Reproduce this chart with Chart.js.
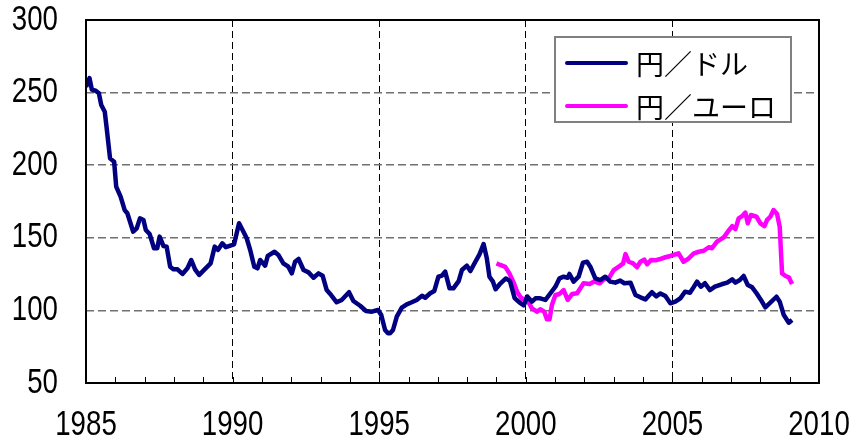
<!DOCTYPE html>
<html>
<head>
<meta charset="utf-8">
<script src="https://cdn.jsdelivr.net/npm/chart.js@4"></script>
<style>
  body { margin: 0; background: #fff; }
  canvas { display: block; }
</style>
</head>
<body>
<canvas id="fxChart" width="850" height="440"></canvas>
<script>
// 円/ドル (月次、読み取り値)
const dollarYears = [1985.0, 1985.12, 1985.2, 1985.33, 1985.44, 1985.52, 1985.64, 1985.7, 1985.82, 1985.96,
  1986.03, 1986.18, 1986.32, 1986.41, 1986.61, 1986.73, 1986.84, 1986.96, 1987.04, 1987.17,
  1987.32, 1987.43, 1987.51, 1987.64, 1987.75, 1987.87, 1987.98, 1988.12, 1988.29, 1988.46,
  1988.59, 1988.72, 1988.86, 1988.97, 1989.25, 1989.39, 1989.5, 1989.65, 1989.77, 1990.05,
  1990.22, 1990.37, 1990.48, 1990.6, 1990.74, 1990.85, 1990.94, 1991.11, 1991.2, 1991.43,
  1991.56, 1991.73, 1991.9, 1992.02, 1992.13, 1992.25, 1992.42, 1992.59, 1992.76, 1992.93,
  1993.07, 1993.21, 1993.36, 1993.55, 1993.72, 1993.97, 1994.12, 1994.35, 1994.55, 1994.75,
  1994.96, 1995.07, 1995.2, 1995.3, 1995.37, 1995.47, 1995.6, 1995.77, 1995.94, 1996.11,
  1996.28, 1996.46, 1996.57, 1996.74, 1996.88, 1997.02, 1997.14, 1997.25, 1997.4, 1997.53,
  1997.71, 1997.82, 1997.99, 1998.11, 1998.28, 1998.42, 1998.56, 1998.67, 1998.76, 1998.88,
  1998.97, 1999.13, 1999.32, 1999.46, 1999.62, 1999.78, 1999.93, 2000.05, 2000.21, 2000.33,
  2000.49, 2000.67, 2000.84, 2001.01, 2001.15, 2001.29, 2001.43, 2001.49, 2001.63, 2001.8,
  2001.95, 2002.09, 2002.2, 2002.37, 2002.54, 2002.71, 2002.88, 2003.05, 2003.22, 2003.36,
  2003.57, 2003.74, 2003.91, 2004.08, 2004.3, 2004.45, 2004.59, 2004.76, 2004.93, 2005.1,
  2005.27, 2005.43, 2005.6, 2005.7, 2005.84, 2005.97, 2006.11, 2006.28, 2006.45, 2006.68,
  2006.87, 2007.04, 2007.15, 2007.3, 2007.43, 2007.57, 2007.72, 2007.87, 2008.02, 2008.17,
  2008.34, 2008.55, 2008.66, 2008.8, 2008.97, 2009.08];
const dollarValues = [254, 260, 252, 251.3, 249.5, 241.5, 236.8, 226.5, 204.7, 202.4,
  185.2, 178.3, 169.1, 166.9, 154.2, 156.5, 163.4, 162.3, 155.4, 152.6,
  142.8, 142.8, 150.8, 144.4, 143.9, 130.1, 128.3, 128.3, 125.1, 129,
  134.7, 128.3, 124.4, 126.7, 132.4, 143.9, 141.6, 146.2, 143.5, 145.5,
  160, 154.2, 149.7, 141.6, 130.1, 129, 134.7, 130.8, 137.5, 140.4,
  138.2, 132.4, 130.1, 125.5, 133.5, 135.4, 127.8, 126.2, 122.5, 125.5,
  123.9, 114, 110.6, 105.6, 107.2, 112.5, 106.5, 103.2, 99.6, 99.1,
  100.3, 96.8, 86.5, 84.2, 84.2, 86.5, 95.7, 101.9, 104.2, 105.6,
  107.2, 110.1, 108.7, 111.8, 113.4, 123.2, 123.9, 126.7, 115.2, 115.2,
  120.2, 127.8, 130.8, 127.1, 133.5, 138.6, 145.7, 135.9, 123.2, 119.8,
  114.6, 118.5, 122, 120.2, 108.5, 105.5, 103.5, 109.6, 106, 108.3,
  108.3, 107.2, 111.8, 116.3, 122.1, 123.2, 122.5, 125.1, 119.8, 123.2,
  132.9, 133.5, 130.1, 122.1, 120.9, 123.2, 119.8, 119.1, 120.5, 118.7,
  119.1, 110.6, 109, 107.6, 112.5, 109.7, 111.7, 109.9, 104.9, 106,
  108.3, 112.9, 112.2, 115.2, 119.8, 116.3, 118.7, 114, 116.3, 118,
  119.1, 121.4, 119.1, 120.9, 123.7, 117.5, 115.9, 111.8, 107.2, 102.1,
  105.3, 109.4, 106, 96.8, 91.5, 93.4];

// 円/ユーロ (1999年以降)
const euroYears = [1999.0, 1999.13, 1999.3, 1999.44, 1999.58, 1999.71, 1999.87, 2000.02, 2000.21, 2000.38,
  2000.49, 2000.63, 2000.72, 2000.81, 2000.89, 2001.01, 2001.15, 2001.29, 2001.43, 2001.58,
  2001.75, 2001.86, 2001.97, 2002.18, 2002.32, 2002.53, 2002.66, 2002.83, 2003.0, 2003.17,
  2003.32, 2003.4, 2003.51, 2003.66, 2003.79, 2003.91, 2004.04, 2004.14, 2004.27, 2004.42,
  2004.55, 2004.76, 2004.93, 2005.04, 2005.21, 2005.38, 2005.56, 2005.73, 2005.9, 2006.07,
  2006.24, 2006.35, 2006.52, 2006.75, 2006.89, 2007.04, 2007.15, 2007.26, 2007.38, 2007.49,
  2007.57, 2007.68, 2007.87, 2008.0, 2008.14, 2008.23, 2008.34, 2008.45, 2008.57, 2008.66,
  2008.74, 2008.86, 2008.97, 2009.08];
const euroValues = [132.4, 131.3, 130, 125.5, 119.5, 112.5, 107.7, 108.3, 101.4, 99.1,
  100.8, 99.1, 93.9, 93.9, 103.7, 110.6, 111.3, 114, 107.2, 111.3,
  111.8, 115.2, 118.7, 118.2, 119.8, 118.7, 121.4, 122.1, 127.8, 130.1,
  132.4, 138.8, 133.5, 132.4, 129.7, 133.5, 135, 131.8, 134.7, 134.5,
  135.2, 136.6, 137.5, 138.2, 139.3, 133.5, 135.9, 139.3, 140.4, 141.1,
  143.5, 142.8, 147.3, 150.3, 154.2, 158.1, 155.9, 163.4, 165, 167.3,
  160, 165.7, 164.5, 160, 158.1, 162.3, 164.5, 169.1, 166.4, 157.6,
  125.5, 123.7, 122.8, 118.2];

const seriesLabels = ['円／ドル', '円／ユーロ'];
const seriesColors = ['#000080', '#FF00FF'];
const yTicks = [50, 100, 150, 200, 250, 300];

const labelFont = "35px 'Liberation Sans', Arial, sans-serif";
const labelSqueeze = 0.79; // 元の図の数字は横に細い

function toPoints(xs, ys) {
    return xs.map((x, i) => ({ x: x, y: ys[i] }));
}

// 細めの数字ラベルを描く
function drawNarrowText(ctx, text, x, y, align) {
    ctx.save();
    ctx.translate(x, y);
    ctx.scale(labelSqueeze, 1);
    ctx.textAlign = align;
    ctx.fillText(text, 0, 0);
    ctx.restore();
}

// 枠線、年の目盛り、軸ラベル、凡例を描く
const framePlugin = {
    id: 'frame',
    afterDraw(chart) {
        const ctx = chart.ctx;
        const a = chart.chartArea;
        const xs = chart.scales.x;
        const ys = chart.scales.y;

        ctx.save();
        // 年ごとの小さな目盛り（内向き）
        ctx.strokeStyle = '#000';
        ctx.lineWidth = 1;
        xs.ticks.forEach(t => {
            const px = Math.round(xs.getPixelForValue(t.value)) + 0.5;
            ctx.beginPath();
            ctx.moveTo(px, a.bottom);
            ctx.lineTo(px, a.bottom - 6);
            ctx.stroke();
        });

        // プロット枠
        ctx.lineWidth = 2;
        ctx.strokeRect(a.left, a.top, a.right - a.left, a.bottom - a.top);

        // 軸ラベル
        ctx.fillStyle = '#000';
        ctx.font = labelFont;
        ctx.textBaseline = 'middle';
        ys.ticks.forEach(t => {
            drawNarrowText(ctx, String(t.value), a.left - 28, ys.getPixelForValue(t.value), 'right');
        });
        xs.ticks.forEach(t => {
            const v = Math.round(t.value);
            if (v % 5 === 0) {
                drawNarrowText(ctx, String(v), xs.getPixelForValue(v), a.bottom + 42, 'center');
            }
        });

        // 凡例
        const bx = a.right - 264, by = a.top + 17, bw = 236, bh = 85;
        ctx.fillStyle = '#fff';
        ctx.fillRect(bx, by, bw, bh);
        ctx.strokeStyle = '#808080';
        ctx.lineWidth = 2;
        ctx.strokeRect(bx, by, bw, bh);

        ctx.font = "28px 'Noto Sans CJK JP', sans-serif";
        ctx.textBaseline = 'middle';
        ctx.textAlign = 'left';
        chart.data.datasets.forEach((ds, i) => {
            const ry = by + 26 + i * 43;
            ctx.strokeStyle = ds.borderColor;
            ctx.lineWidth = 4;
            ctx.lineCap = 'round';
            ctx.beginPath();
            ctx.moveTo(bx + 12, ry);
            ctx.lineTo(bx + 71, ry);
            ctx.stroke();
            ctx.fillStyle = '#000';
            ctx.fillText(ds.label, bx + 81, ry + 1);
        });
        ctx.restore();
    }
};

const ctx = document.getElementById('fxChart').getContext('2d');
const chart = new Chart(ctx, {
    type: 'line',
    data: {
        datasets: [
            {
                label: seriesLabels[0],
                data: toPoints(dollarYears, dollarValues),
                borderColor: seriesColors[0],
                borderWidth: 4.5,
                pointRadius: 0,
                borderJoinStyle: 'round',
                tension: 0
            },
            {
                label: seriesLabels[1],
                data: toPoints(euroYears, euroValues),
                borderColor: seriesColors[1],
                borderWidth: 4.5,
                pointRadius: 0,
                borderJoinStyle: 'round',
                tension: 0
            }
        ]
    },
    options: {
        responsive: false,
        animation: false,
        layout: { padding: { left: 0, right: 31, top: 20, bottom: 0 } },
        scales: {
            x: {
                type: 'linear',
                min: 1985,
                max: 2010,
                afterFit: s => { s.height = 57; s.paddingLeft = 0; s.paddingRight = 0; },
                ticks: {
                    display: false,
                    stepSize: 1,
                    autoSkip: false,
                    maxRotation: 0
                },
                grid: {
                    drawTicks: false,
                    lineWidth: 1,
                    color: c => {
                        const v = Math.round(c.tick ? c.tick.value : 0);
                        return (v % 5 === 0 && v !== 1985 && v !== 2010) ? '#000' : 'rgba(0,0,0,0)';
                    }
                },
                border: { display: false, dash: [7, 4] }
            },
            y: {
                min: 50,
                max: 300,
                afterFit: s => { s.width = 86; s.paddingTop = 0; s.paddingBottom = 0; },
                afterBuildTicks: s => { s.ticks = yTicks.map(v => ({ value: v })); },
                ticks: { display: false },
                grid: {
                    drawTicks: false,
                    lineWidth: 1.5,
                    color: c => {
                        const v = c.tick ? c.tick.value : 0;
                        return (v === 50 || v === 300) ? 'rgba(0,0,0,0)' : '#707070';
                    }
                },
                border: { display: false, dash: [8, 4] }
            }
        },
        plugins: {
            legend: { display: false },
            tooltip: { enabled: false },
            title: { display: false }
        }
    },
    plugins: [framePlugin]
});
</script>
</body>
</html>
